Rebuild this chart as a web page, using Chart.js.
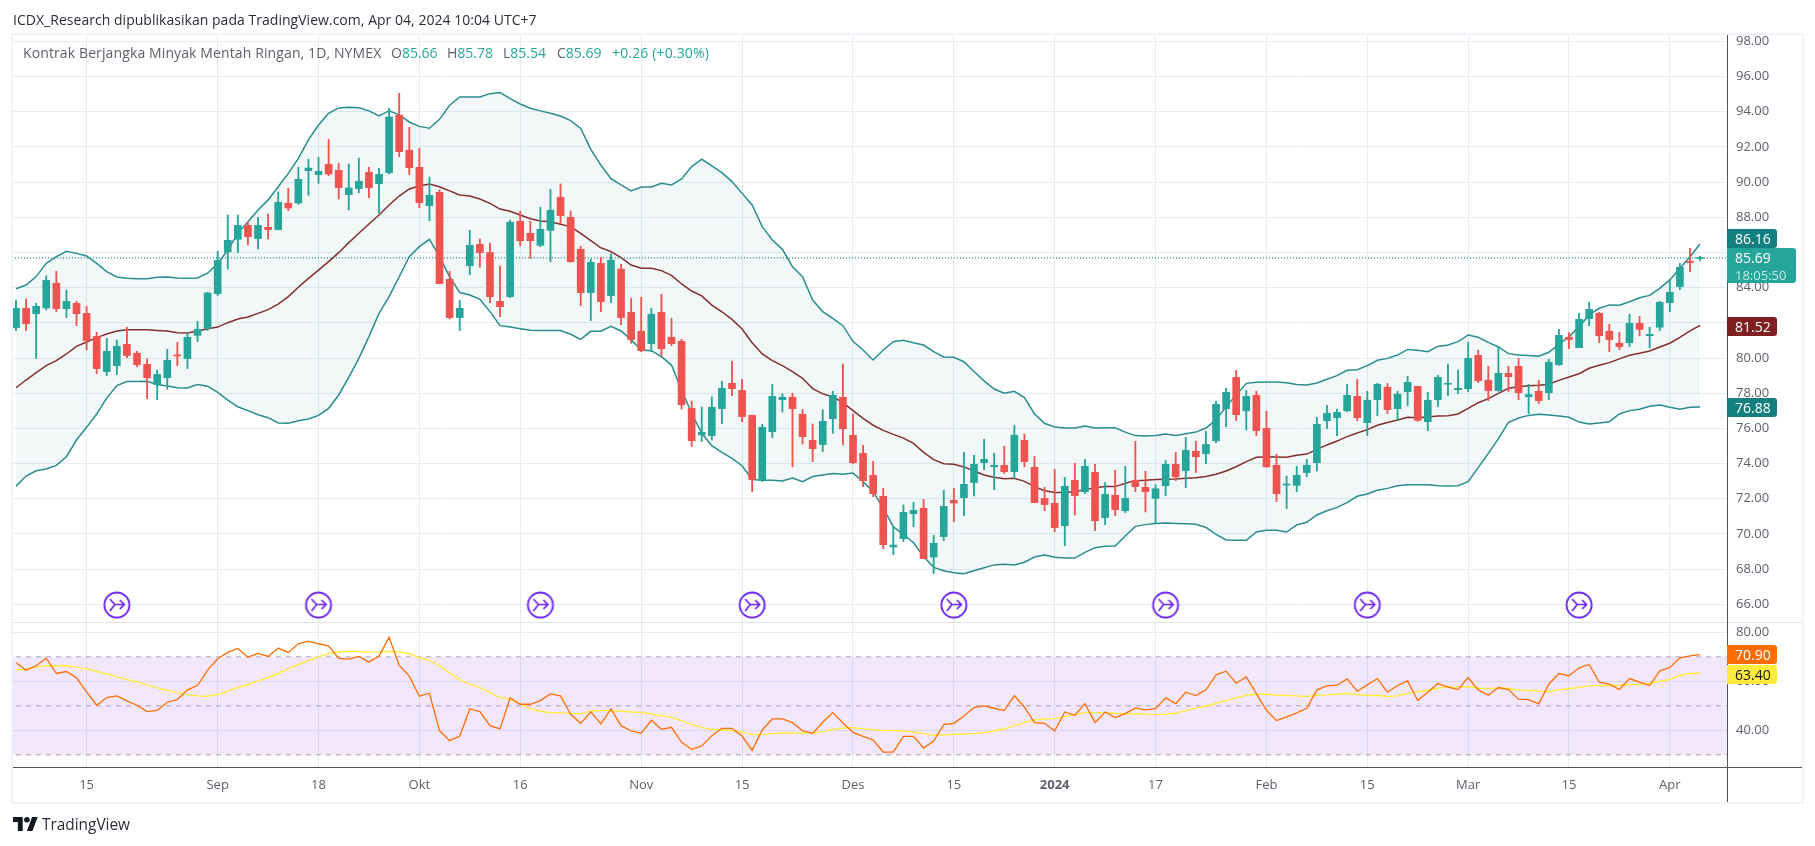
<!DOCTYPE html>
<html>
<head>
<meta charset="utf-8">
<title>Kontrak Berjangka Minyak Mentah Ringan</title>
<script src="https://cdn.jsdelivr.net/npm/chart.js@4"></script>
<style>
html, body { margin: 0; padding: 0; background: #fff; }
body { width: 1815px; height: 846px; position: relative; overflow: hidden; font-family: "Open Sans", sans-serif; }
canvas { position: absolute; left: 0; top: 0; }
.txt { position: absolute; white-space: nowrap; }
.head { left: 13px; top: 11px; font-size: 14px; line-height: 18px; color: #2a2e39; letter-spacing: 0.03px; }
.leg { top: 44px; font-size: 14px; line-height: 18px; color: #5d606b; }
.leg b { font-weight: 400; color: #26a69a; }
.tag { left: 1727px; width: 50px; height: 19px; line-height: 19px; font-size: 14px; color: #fff; padding-left: 8px; box-sizing: border-box; border-radius: 0 3px 3px 0; }
.wm { left: 42px; top: 815px; font-size: 15.4px; line-height: 20px; color: #2a2e39; }
</style>
</head>
<body>
<canvas id="chart" width="1815" height="846"></canvas>

<div class="txt head">ICDX_Research dipublikasikan pada TradingView.com, Apr 04, 2024 10:04 UTC+7</div>
<div class="txt leg" style="left:23px;letter-spacing:0.115px">Kontrak Berjangka Minyak Mentah Ringan, 1D, NYMEX</div>
<div class="txt leg" style="left:391px">O<b>85.66</b></div>
<div class="txt leg" style="left:447px">H<b>85.78</b></div>
<div class="txt leg" style="left:503px">L<b>85.54</b></div>
<div class="txt leg" style="left:557px">C<b>85.69</b></div>
<div class="txt leg" style="left:612px"><b style="letter-spacing:0.15px">+0.26 (+0.30%)</b></div>

<div class="txt tag" style="top:229px;background:#12807f">86.16</div>
<div class="txt tag" style="top:248px;width:69px;height:35px;background:#26a69a;line-height:17px;padding-top:1px">85.69<br><span style="font-size:13px;opacity:.72">18:05:50</span></div>
<div class="txt tag" style="top:317px;background:#801f22">81.52</div>
<div class="txt tag" style="top:398px;background:#12807f">76.88</div>
<div class="txt tag" style="top:645px;background:#ff6d00">70.90</div>
<div class="txt tag" style="top:665px;background:#ffeb3b;color:#131722">63.40</div>

<svg style="position:absolute;left:13px;top:817px" width="25" height="14" viewBox="0 0 36 20">
  <path fill="#131722" d="M14 20H7V7H0V0h14v20zM28 20h-8l7.5-20h8L28 20z"></path>
  <circle fill="#131722" cx="20" cy="4" r="4"></circle>
</svg>
<div class="txt wm">TradingView</div>

<script>
// daily candles
const opens = [
  81.73,82.83,82.52,82.85,84.25,82.81,83.11,82.54,81.23,79.23,
  79.57,80.78,80.27,79.64,78.49,78.88,80.17,79.97,81.29,81.69,
  83.66,86.03,86.75,87.54,86.79,87.43,87.30,88.80,88.81,90.65,
  90.43,91.01,90.67,89.29,89.63,90.56,89.91,90.54,93.80,91.81,
  90.84,88.66,89.42,84.47,82.30,85.25,86.46,86.00,83.22,83.49,
  87.77,87.09,86.41,87.26,89.14,88.00,86.18,83.72,85.38,83.55,
  85.06,82.60,81.52,80.82,82.60,81.18,80.95,77.14,75.63,75.59,
  77.12,78.56,78.16,76.74,73.07,75.81,77.63,77.77,76.80,75.32,
  75.08,76.55,77.77,75.61,74.58,73.33,72.14,69.26,69.73,71.15,
  71.46,68.69,69.85,71.91,72.06,72.92,74.05,73.82,73.90,73.54,
  75.32,73.79,72.02,71.74,70.47,73.05,72.40,73.50,70.93,72.20,
  71.32,73.05,72.65,72.02,72.74,73.96,73.60,74.70,74.56,75.30,
  77.12,78.90,77.00,77.88,76.00,73.90,72.78,72.76,73.49,74.05,
  76.44,76.61,77.00,77.82,76.33,77.63,78.34,77.12,78.09,78.39,
  76.38,77.63,78.51,78.20,78.26,80.15,78.74,78.15,79.13,79.53,
  77.80,78.11,78.03,79.62,81.18,80.59,82.24,82.54,81.52,80.84,
  80.87,81.97,81.27,81.75,83.15,84.06,85.50,85.66
];
const highs = [
  83.30,83.36,83.11,84.67,84.93,83.87,83.22,82.94,81.46,81.12,
  81.03,81.75,80.38,79.95,79.32,80.50,80.89,81.40,82.09,83.74,
  86.07,88.13,88.13,87.75,88.00,88.19,89.44,89.65,90.84,91.30,
  91.41,92.43,91.07,91.03,91.37,90.84,90.79,94.20,95.05,93.12,
  91.92,90.29,89.57,84.93,83.28,87.26,86.77,86.54,85.23,87.85,
  88.34,87.77,88.57,89.59,89.90,88.36,86.35,85.61,85.73,85.92,
  85.33,83.40,83.45,82.82,83.62,82.26,81.07,77.56,77.22,77.79,
  78.68,79.81,78.79,76.76,76.23,78.51,77.96,78.00,77.08,76.25,
  77.05,78.11,79.66,76.82,75.04,74.13,72.59,70.41,71.65,71.80,
  71.97,69.92,72.48,72.59,74.64,74.47,75.38,74.58,74.98,76.17,
  75.68,74.41,72.65,73.67,73.22,74.02,74.24,73.96,72.92,73.62,
  73.84,75.27,73.56,72.80,74.19,74.64,75.49,75.27,75.83,77.54,
  78.28,79.30,78.16,78.11,76.97,74.53,73.29,73.84,74.24,76.63,
  77.31,77.08,78.51,78.79,78.11,78.56,78.56,78.11,78.96,78.39,
  78.05,79.02,79.66,79.32,80.89,80.44,79.53,80.67,79.53,79.98,
  78.51,78.74,79.93,81.63,81.44,82.54,83.17,82.60,81.92,81.46,
  82.49,82.37,81.75,83.22,84.42,85.38,86.24,85.78
];
const lows = [
  81.56,81.56,79.97,82.73,82.64,82.30,81.84,80.46,79.11,79.00,
  79.06,80.02,79.51,77.69,77.63,78.22,79.57,79.40,80.93,81.56,
  83.55,85.06,85.99,86.43,86.20,86.77,87.28,88.38,88.74,89.25,
  89.93,90.37,89.04,88.42,89.40,89.12,88.23,90.46,91.45,90.43,
  88.55,87.81,84.23,82.22,81.56,84.74,85.17,83.15,82.35,83.43,
  86.37,85.67,86.33,85.48,87.66,85.44,82.98,82.13,82.64,83.15,
  81.90,80.84,80.36,80.36,80.14,80.70,77.10,74.96,75.25,75.34,
  76.27,77.86,76.38,72.40,72.97,75.47,76.93,73.82,75.11,74.11,
  74.68,75.72,75.06,73.98,72.69,72.12,69.16,68.82,69.56,70.41,
  68.58,67.74,69.62,70.70,71.04,72.16,73.65,72.52,73.43,73.16,
  73.81,71.78,71.32,70.13,69.33,71.08,72.29,70.19,70.53,71.04,
  71.21,72.40,71.25,70.60,72.18,73.03,72.63,73.49,74.00,75.19,
  76.10,76.44,75.91,75.59,73.78,71.84,71.44,72.40,73.25,73.58,
  75.98,75.59,76.95,76.44,75.59,76.72,76.84,76.44,77.29,76.40,
  75.87,77.24,77.86,77.97,78.09,78.60,77.58,78.11,78.09,77.63,
  76.84,77.41,77.63,79.59,80.53,80.59,81.84,80.87,80.36,80.47,
  80.65,81.27,80.57,81.56,82.64,83.89,84.91,85.54
];
const closes = [
  82.83,81.95,82.94,84.42,82.81,83.22,82.52,80.99,79.40,80.38,
  80.67,80.14,79.62,78.88,79.07,79.87,80.12,81.18,81.63,83.70,
  85.55,86.69,87.54,86.90,87.54,87.30,88.85,88.53,90.16,90.80,
  90.61,90.46,89.69,89.67,90.05,89.69,90.44,93.70,91.73,90.82,
  88.83,89.25,84.23,82.30,82.83,86.41,85.99,83.49,82.92,87.72,
  86.67,86.67,87.32,88.40,88.10,85.48,83.72,85.44,83.21,85.57,
  82.30,81.05,80.42,82.49,80.53,80.82,77.35,75.30,75.78,77.20,
  78.28,78.26,76.67,73.09,76.06,77.82,77.77,77.12,75.53,74.85,
  76.40,77.88,75.98,74.05,73.03,72.29,69.39,69.37,71.23,71.34,
  68.60,69.47,71.57,71.76,72.82,73.96,74.24,73.90,73.54,75.61,
  74.11,71.78,71.67,70.36,72.71,72.18,73.84,70.75,72.25,71.38,
  72.02,72.69,72.40,72.57,73.96,73.25,74.75,74.39,75.09,77.37,
  78.05,76.78,77.82,75.87,73.82,72.29,72.82,73.33,73.90,76.23,
  76.86,76.91,77.88,76.61,77.60,78.51,77.07,77.94,78.62,76.46,
  77.60,78.90,78.56,78.28,79.98,78.71,78.15,79.13,78.94,78.03,
  77.92,77.58,79.76,81.29,81.05,82.20,82.77,81.27,81.05,80.65,
  81.97,81.63,81.35,83.17,83.74,85.16,85.43,85.69
];

// bollinger bands
const bbUpper = [
  83.94,84.15,84.63,85.38,85.76,86.07,85.95,85.80,85.38,84.91,
  84.61,84.53,84.51,84.51,84.59,84.61,84.55,84.53,84.55,84.82,
  85.38,86.14,87.09,87.75,88.42,88.99,89.74,90.50,91.35,92.40,
  93.25,93.91,94.22,94.25,94.23,94.05,93.76,94.06,93.82,93.42,
  93.17,93.06,93.57,94.37,94.84,94.84,94.84,95.03,95.09,94.75,
  94.44,94.20,94.05,93.91,93.76,93.50,93.05,91.86,90.97,90.20,
  89.84,89.50,89.72,89.72,89.93,89.84,90.18,90.88,91.30,90.92,
  90.54,90.03,89.36,88.70,87.47,86.71,86.18,85.19,84.62,83.30,
  82.64,82.26,81.84,80.95,80.46,79.89,80.46,80.93,81.01,80.87,
  80.74,80.36,80.06,80.04,79.79,79.23,78.70,78.24,78.00,78.11,
  77.75,76.82,76.29,76.08,76.02,76.02,76.14,76.02,76.04,76.04,
  75.79,75.59,75.57,75.59,75.68,75.60,75.70,75.79,76.02,76.48,
  77.24,77.90,78.56,78.62,78.64,78.64,78.60,78.49,78.47,78.58,
  78.79,79.00,79.30,79.34,79.57,79.87,79.98,80.17,80.49,80.44,
  80.36,80.66,80.74,80.93,81.31,81.18,80.89,80.63,80.25,80.17,
  80.14,80.10,80.33,80.78,81.22,81.78,82.45,82.83,83.02,83.00,
  83.20,83.43,83.56,83.96,84.44,85.10,85.76,86.48
];
const bbBasis = [
  78.31,78.75,79.17,79.57,79.85,80.23,80.66,80.91,81.16,81.37,
  81.54,81.61,81.61,81.61,81.57,81.54,81.44,81.42,81.54,81.67,
  81.76,82.01,82.22,82.33,82.54,82.75,83.07,83.49,84.02,84.53,
  85.00,85.48,85.99,86.56,87.09,87.62,88.13,88.70,89.21,89.61,
  89.78,89.89,89.74,89.50,89.27,89.21,89.04,88.79,88.47,88.34,
  88.13,87.92,87.79,87.75,87.60,87.47,87.09,86.67,86.27,86.05,
  85.71,85.29,85.10,85.10,84.97,84.70,84.21,83.81,83.53,83.01,
  82.63,82.20,81.65,80.87,80.23,79.85,79.57,79.23,78.85,78.26,
  77.96,77.80,77.46,77.01,76.57,76.18,75.89,75.66,75.45,75.15,
  74.64,74.22,73.99,73.96,73.81,73.58,73.35,73.22,73.14,73.16,
  72.99,72.69,72.46,72.35,72.35,72.40,72.52,72.63,72.69,72.69,
  72.88,73.03,73.05,73.09,73.11,73.12,73.16,73.20,73.26,73.39,
  73.58,73.82,74.11,74.36,74.39,74.37,74.36,74.47,74.54,74.81,
  75.06,75.28,75.53,75.74,75.93,76.18,76.33,76.48,76.63,76.61,
  76.65,76.70,76.72,76.82,77.14,77.46,77.69,77.99,78.28,78.37,
  78.43,78.45,78.51,78.73,78.92,79.11,79.42,79.59,79.74,79.95,
  80.16,80.27,80.40,80.63,80.84,81.18,81.54,81.86
];
const bbLower = [
  72.72,73.29,73.59,73.69,73.90,74.39,75.34,76.06,76.82,77.72,
  78.43,78.66,78.66,78.68,78.50,78.41,78.31,78.30,78.50,78.40,
  78.05,77.61,77.23,77.01,76.78,76.61,76.31,76.29,76.44,76.53,
  76.74,77.14,77.90,78.90,79.98,81.22,82.54,83.49,84.62,85.76,
  86.33,86.75,85.76,84.62,83.72,83.58,83.34,82.64,81.84,81.76,
  81.67,81.58,81.56,81.56,81.56,81.35,81.06,81.52,81.52,81.80,
  81.54,81.03,80.46,80.42,80.08,79.60,78.18,76.86,75.72,75.02,
  74.64,74.30,73.88,73.10,73.05,73.05,73.01,73.18,72.97,73.26,
  73.35,73.43,73.39,73.46,72.97,72.40,71.46,70.41,69.98,69.50,
  68.71,68.10,67.91,67.80,67.74,67.91,68.08,68.24,68.27,68.24,
  68.39,68.69,68.80,68.67,68.63,68.63,68.95,69.22,69.30,69.31,
  69.88,70.43,70.53,70.60,70.62,70.60,70.58,70.55,70.37,69.98,
  69.66,69.64,69.64,70.11,70.21,70.21,70.11,70.51,70.66,71.08,
  71.32,71.51,71.78,72.14,72.27,72.48,72.59,72.74,72.80,72.80,
  72.80,72.74,72.73,72.74,72.97,73.77,74.58,75.40,76.35,76.59,
  76.74,76.80,76.76,76.70,76.63,76.36,76.25,76.31,76.38,76.82,
  77.01,77.09,77.26,77.33,77.20,77.09,77.20,77.22
];

// rsi pane
const rsiValues = [
  67.54,64.54,66.32,69.45,63.18,64.00,61.41,55.68,50.22,53.36,
  54.04,52.00,50.22,47.63,48.17,51.45,52.54,56.50,58.27,64.54,
  69.18,71.77,73.41,69.86,71.36,70.13,73.54,71.77,75.32,76.41,
  75.32,74.50,69.32,69.04,70.13,67.82,70.27,77.91,66.59,62.09,
  53.90,55.13,39.85,35.76,37.54,48.72,47.63,41.90,40.54,53.22,
  50.63,50.63,52.13,54.86,54.04,46.54,42.85,47.49,42.58,48.72,
  41.90,39.72,38.76,44.08,40.40,41.22,35.08,32.22,33.58,37.81,
  40.81,40.81,37.67,31.81,40.13,44.63,44.63,43.13,39.85,38.76,
  43.26,47.22,42.99,39.17,37.54,36.04,31.13,31.13,37.54,37.54,
  32.76,35.63,42.31,42.85,45.86,49.27,49.95,49.00,48.04,54.18,
  49.40,43.13,42.85,39.72,47.49,46.13,50.90,43.13,47.49,45.17,
  46.81,49.13,48.31,48.86,53.22,50.90,55.54,54.18,56.50,62.63,
  64.13,59.22,61.81,55.00,48.17,43.95,45.45,47.08,49.00,56.50,
  58.13,58.40,60.99,55.95,58.54,61.13,55.54,58.27,60.18,52.13,
  55.54,59.09,57.59,56.63,61.54,56.50,54.31,57.45,56.63,52.68,
  52.54,50.77,58.81,63.18,62.22,65.50,66.86,59.63,58.81,56.63,
  61.13,59.63,58.27,64.27,65.63,69.59,70.41,70.90
];
const rsiMa = [
  64.54,65.09,65.77,66.32,66.45,66.32,65.77,65.09,64.00,63.04,
  61.81,60.72,59.77,58.54,57.31,56.36,55.27,54.45,54.04,53.90,
  54.59,55.95,57.45,58.68,60.04,61.54,63.18,65.09,66.86,68.50,
  70.00,71.36,72.04,72.18,72.18,71.91,71.91,72.18,72.04,71.23,
  69.59,68.63,66.32,63.45,60.72,58.81,57.45,55.40,53.36,52.54,
  50.77,48.86,47.77,47.22,47.22,46.81,46.81,47.77,48.04,48.04,
  47.77,47.49,47.36,46.67,45.99,45.31,43.95,42.45,41.08,40.40,
  40.13,39.85,39.31,38.22,38.22,38.63,38.90,38.90,38.90,38.90,
  39.44,40.40,40.95,41.08,40.67,40.26,39.85,39.85,39.72,39.31,
  38.63,37.95,38.08,38.35,38.49,38.63,39.04,39.72,40.54,41.90,
  43.26,44.22,44.63,44.76,45.58,46.40,47.22,47.22,47.22,46.95,
  46.81,46.67,46.67,46.40,46.54,47.08,47.90,49.13,49.81,51.04,
  52.13,53.36,54.31,54.72,54.72,54.31,54.18,54.04,53.77,54.31,
  54.45,54.72,55.00,54.59,54.18,54.31,53.77,54.04,55.00,55.68,
  56.36,57.18,57.72,57.72,57.86,57.18,57.04,57.18,57.18,56.50,
  56.36,55.95,55.81,56.50,57.04,57.45,58.13,58.27,58.27,58.27,
  58.68,58.81,59.22,60.04,60.72,62.36,63.18,63.40
];
const rsiLevels = [70, 50, 30];

// axes
const priceTicks = [66,68,70,72,74,76,78,80,82,84,86,88,90,92,94,96,98];
const rsiTicks = [40, 60, 80];
const timeTickIndex = [7,20,30,40,50,62,72,83,93,103,113,124,134,144,154,164];
const timeTickLabels = ['15','Sep','18','Okt','16','Nov','15','Des','15','2024','17','Feb','15','Mar','15','Apr'];

// bars that carry a TradingView idea marker
const eventIndex = [10,30,52,73,93,114,134,155];
const eventLevel = 65.96;

const UP = '#26a69a', DOWN = '#ef5350';
const GRID = '#e3ecf1';
const AXIS_FONT = '"Open Sans", sans-serif';

function candleColor(ctx) {
  const i = ctx.dataIndex;
  return closes[i] >= opens[i] ? UP : DOWN;
}

function seriesPoints(values) {
  return values.map((v, i) => ({ x: i, y: v }));
}

function levelPoints(v) {
  return [{ x: -1, y: v }, { x: 171, y: v }];
}

function lineSet(values, color, yAxisID, order, width) {
  return {
    type: 'line', data: seriesPoints(values), yAxisID: yAxisID, borderColor: color,
    borderWidth: width, pointRadius: 0, tension: 0, fill: false, order: order
  };
}

function levelSet(v, order, fill) {
  return {
    type: 'line', data: levelPoints(v), yAxisID: 'rsi', borderColor: '#a9a9b3', borderWidth: 1,
    borderDash: [5, 5], pointRadius: 0, fill: fill, backgroundColor: 'rgba(150,39,245,0.11)', order: order
  };
}

// round purple marker with the merge arrow
function makeEventIcon() {
  const c = document.createElement('canvas');
  c.width = 30; c.height = 30;
  const g = c.getContext('2d');
  g.strokeStyle = '#6a24f5';
  g.lineWidth = 1.9;
  g.fillStyle = '#fff';
  g.beginPath();
  g.arc(15, 15, 12.5, 0, Math.PI * 2);
  g.fill();
  g.stroke();
  g.lineWidth = 1.7;
  g.beginPath();
  g.moveTo(8, 9); g.lineTo(13, 14.5); g.lineTo(22, 14.5);
  g.moveTo(8, 21); g.lineTo(13, 14.5);
  g.moveTo(18, 10); g.lineTo(22.5, 14.5); g.lineTo(18, 19);
  g.stroke();
  return c;
}

const frame = {
  id: 'frame',
  afterDatasetsDraw(chart) {
    const a = chart.chartArea, g = chart.ctx;
    const right = chart.scales.y.right;
    const bottom = chart.scales.x.bottom;
    const split = chart.scales.y.bottom;
    g.save();
    g.strokeStyle = '#f0f3fa';
    g.lineWidth = 2;
    g.strokeRect(a.left - 1, a.top - 1, right - a.left + 2, bottom - a.top + 2);
    g.strokeStyle = '#e0e3eb';
    g.lineWidth = 1;
    g.beginPath();
    g.moveTo(a.left, split + 0.5); g.lineTo(right, split + 0.5);
    g.stroke();
    g.strokeStyle = '#50535e';
    g.beginPath();
    g.moveTo(a.left, a.bottom + 0.5); g.lineTo(right, a.bottom + 0.5);
    g.moveTo(a.right + 0.5, a.top); g.lineTo(a.right + 0.5, bottom);
    g.stroke();
    g.restore();
  }
};

const lastClose = closes[closes.length - 1];

new Chart(document.getElementById('chart'), {
  type: 'bar',
  plugins: [frame],
  data: {
    datasets: [
      { data: opens.map((o, i) => ({ x: i, y: [o, closes[i]] })), barThickness: 7, minBarLength: 1,
        grouped: false, backgroundColor: candleColor, order: 1 },
      { data: lows.map((l, i) => ({ x: i, y: [l, highs[i]] })), barThickness: 1.2,
        grouped: false, backgroundColor: candleColor, order: 2 },
      { type: 'line', data: [{ x: -1, y: lastClose }, { x: 171, y: lastClose }], borderColor: '#0f8a7e',
        borderWidth: 1.3, borderDash: [1, 2], pointRadius: 0, order: 3 },
      Object.assign(lineSet(bbUpper, '#2a8d90', 'y', 4, 1.5), { fill: { target: 5 }, backgroundColor: 'rgba(0,121,107,0.05)' }),
      lineSet(bbBasis, '#8b2a2c', 'y', 4, 1.5),
      lineSet(bbLower, '#2a8d90', 'y', 4, 1.5),
      levelSet(rsiLevels[0], 8, { target: 8 }),
      levelSet(rsiLevels[1], 8, false),
      levelSet(rsiLevels[2], 8, false),
      lineSet(rsiMa, '#ffeb3b', 'rsi', 7, 1.4),
      lineSet(rsiValues, '#ff6d00', 'rsi', 6, 1.3),
      { type: 'scatter', data: eventIndex.map(i => ({ x: i, y: eventLevel })), pointStyle: makeEventIcon(), order: 0 }
    ]
  },
  options: {
    responsive: false,
    animation: false,
    events: [],
    devicePixelRatio: 1,
    layout: { padding: { left: 13, right: 13, top: 35, bottom: 44 } },
    plugins: { legend: { display: false }, tooltip: { enabled: false } },
    scales: {
      x: {
        type: 'linear', offset: false, min: -0.2975, max: 169.67,
        grid: { color: GRID, drawTicks: false, offset: false },
        border: { display: false },
        afterBuildTicks: s => { s.ticks = timeTickIndex.map(v => ({ value: v })); },
        afterFit: s => { s.height = 35; },
        ticks: {
          autoSkip: false, maxRotation: 0, padding: 10, color: '#5d606b',
          font: ctx => ({ family: AXIS_FONT, size: 13, weight: timeTickLabels[ctx.index] === '2024' ? 'bold' : 'normal' }),
          callback: (v, i) => timeTickLabels[i]
        }
      },
      y: {
        position: 'right', stack: 'panes', stackWeight: 587, min: 64.994, max: 98.364,
        grid: { color: GRID, drawTicks: false },
        border: { display: false },
        afterBuildTicks: s => { s.ticks = priceTicks.map(v => ({ value: v })); },
        afterFit: s => { s.width = 75; },
        ticks: { padding: 9, color: '#5d606b', font: { family: AXIS_FONT, size: 13 }, callback: v => v.toFixed(2) }
      },
      rsi: {
        position: 'right', stack: 'panes', stackWeight: 145, min: 25.02, max: 84.2,
        grid: { color: GRID, drawTicks: false },
        border: { display: false },
        afterBuildTicks: s => { s.ticks = rsiTicks.map(v => ({ value: v })); },
        afterFit: s => { s.width = 75; },
        ticks: { padding: 9, color: '#5d606b', font: { family: AXIS_FONT, size: 13 }, callback: v => v.toFixed(2) }
      }
    }
  }
});
</script>
</body>
</html>
